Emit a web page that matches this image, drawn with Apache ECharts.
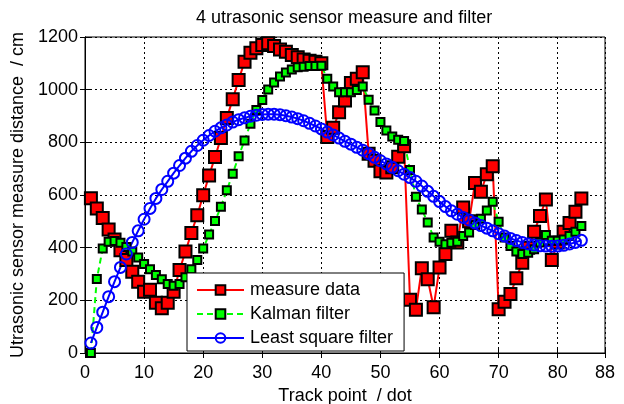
<!DOCTYPE html>
<html>
<head>
<meta charset="utf-8">
<script src="https://cdn.jsdelivr.net/npm/echarts@6/dist/echarts.min.js"></script>
<style>
  html, body { margin: 0; padding: 0; background: #fff; }
  #chart { width: 624px; height: 404px; }
</style>
</head>
<body>
<div id="chart"></div>
<script>
// track point index (x)
const trackPoints = [
  1, 2, 3, 4, 5, 6, 7, 8, 9, 10, 11, 12, 13, 14, 15, 16, 17, 18, 19, 20,
  21, 22, 23, 24, 25, 26, 27, 28, 29, 30, 31, 32, 33, 34, 35, 36, 37, 38, 39, 40,
  41, 42, 43, 44, 45, 46, 47, 48, 49, 50, 51, 52, 53, 54, 55, 56, 57, 58, 59, 60,
  61, 62, 63, 64, 65, 66, 67, 68, 69, 70, 71, 72, 73, 74, 75, 76, 77, 78, 79, 80,
  81, 82, 83, 84
]

const measureData = [
  588, 549, 513, 469, 431, 390, 353, 309, 271, 233, 240, 191, 170, 191, 233, 315, 385, 456, 523, 599,
  674, 744, 816, 892, 964, 1037, 1106, 1140, 1157, 1170, 1176, 1166, 1153, 1144, 1132, 1123, 1115, 1110, 1106, 1100,
  820, 855, 914, 959, 1025, 1041, 1066, 757, 730, 690, 685, 705, 745, 785, 202, 164, 322, 280, 174, 325,
  376, 464, 420, 553, 500, 646, 612, 679, 709, 166, 195, 224, 284, 343, 400, 460, 520, 583, 353, 420,
  460, 494, 536, 587
]

const kalmanData = [
  0, 281, 397, 422, 425, 419, 403, 385, 363, 338, 318, 296, 280, 262, 255, 262, 288, 318, 353, 397,
  450, 501, 555, 618, 681, 747, 807, 871, 923, 961, 1001, 1027, 1050, 1065, 1077, 1085, 1087, 1090, 1090, 1091,
  1041, 1012, 990, 990, 990, 999, 1012, 962, 921, 877, 845, 822, 810, 805, 695, 593, 545, 496, 439, 422,
  413, 419, 422, 444, 458, 486, 510, 541, 574, 498, 439, 406, 385, 376, 381, 394, 420, 448, 426, 426,
  431, 444, 460, 482
]

const leastSquareData = [
  38, 97, 155, 214, 271, 325, 376, 420, 464, 508, 549, 587, 621, 652, 683, 712, 740, 766, 788, 808,
  826, 842, 855, 866, 877, 886, 893, 899, 903, 906, 907, 907, 905, 901, 896, 890, 882, 872, 862, 851,
  839, 828, 816, 804, 793, 781, 770, 757, 743, 730, 718, 705, 692, 679, 666, 652, 634, 614, 595, 575,
  556, 540, 527, 515, 505, 494, 484, 474, 464, 453, 444, 435, 427, 420, 414, 410, 407, 406, 405, 406,
  409, 414, 420, 428
]

const xTicks = { min: 0, max: 88, interval: 10 }
const yTicks = { min: 0, max: 1200, interval: 200 }

const FONT = 'Liberation Sans, Arial, sans-serif'

const pairs = (ys) => trackPoints.map((x, i) => [x, ys[i]])

const gridLine = { show: true, lineStyle: { color: '#000', width: 1, type: [2, 3] } }
const tick = { show: true, inside: true, length: 5, lineStyle: { color: '#000', width: 1 } }
const label = { color: '#000', fontFamily: FONT, fontSize: 18 }
const plain = (v) => String(v)

const chart = echarts.init(document.getElementById('chart'), null, { renderer: 'canvas' })

chart.setOption({
  animation: false,
  backgroundColor: '#fff',
  title: {
    text: '4 utrasonic sensor measure and filter',
    left: 196,
    top: 9,
    padding: 0,
    textStyle: { color: '#000', fontFamily: FONT, fontSize: 18, fontWeight: 'normal' }
  },
  grid: {
    left: 85, right: 19, top: 37, bottom: 51,
    outerBoundsMode: 'none',
    show: true, borderColor: '#000', borderWidth: 1, backgroundColor: '#fff'
  },
  legend: {
    orient: 'vertical',
    left: 187,
    top: 273,
    padding: [8, 11, 4, 9],
    itemGap: 6,
    itemWidth: 47,
    itemHeight: 12,
    backgroundColor: '#fff',
    borderColor: '#000',
    borderWidth: 1,
    borderRadius: 0,
    textStyle: { color: '#000', fontFamily: FONT, fontSize: 18, padding: [0, 0, 0, 1] },
    data: ['measure data', 'Kalman filter', 'Least square filter']
  },
  xAxis: [
    {
      type: 'value', ...xTicks,
      name: 'Track point  / dot',
      nameLocation: 'middle',
      nameGap: 27,
      nameTextStyle: label,
      axisLine: { show: true, lineStyle: { color: '#000', width: 1 } },
      axisTick: tick,
      axisLabel: { ...label, margin: 11, formatter: plain },
      splitLine: gridLine
    },
    {
      type: 'value', ...xTicks, position: 'top',
      axisLine: { show: true, lineStyle: { color: '#000', width: 1 } },
      axisTick: tick,
      axisLabel: { show: false },
      splitLine: { show: false }
    }
  ],
  yAxis: [
    {
      type: 'value', ...yTicks,
      name: 'Utrasonic sensor measure distance  / cm',
      nameLocation: 'middle',
      nameGap: 54,
      nameTextStyle: label,
      axisLine: { show: true, lineStyle: { color: '#000', width: 1 } },
      axisTick: tick,
      axisLabel: { ...label, margin: 7, formatter: plain },
      splitLine: gridLine
    },
    {
      type: 'value', ...yTicks, position: 'right',
      axisLine: { show: true, lineStyle: { color: '#000', width: 1 } },
      axisTick: tick,
      axisLabel: { show: false },
      splitLine: { show: false }
    }
  ],
  series: [
    {
      name: 'measure data',
      type: 'line',
      data: pairs(measureData),
      symbol: 'rect',
      symbolSize: 12,
      lineStyle: { color: '#ff0000', width: 2 },
      itemStyle: { color: '#ff0000', borderColor: '#000', borderWidth: 2 },
      emphasis: { disabled: true }
    },
    {
      name: 'Kalman filter',
      type: 'line',
      data: pairs(kalmanData),
      symbol: 'rect',
      symbolSize: 8,
      lineStyle: { color: '#00ff00', width: 2, type: [6, 4] },
      itemStyle: { color: '#00ff00', borderColor: '#000', borderWidth: 2 },
      emphasis: { disabled: true }
    },
    {
      name: 'Least square filter',
      type: 'line',
      data: pairs(leastSquareData),
      symbol: 'circle',
      symbolSize: 11,
      lineStyle: { color: '#0000ff', width: 2 },
      itemStyle: { color: 'rgba(255,255,255,0)', borderColor: '#0000ff', borderWidth: 2 },
      emphasis: { disabled: true }
    }
  ]
})
</script>
</body>
</html>
